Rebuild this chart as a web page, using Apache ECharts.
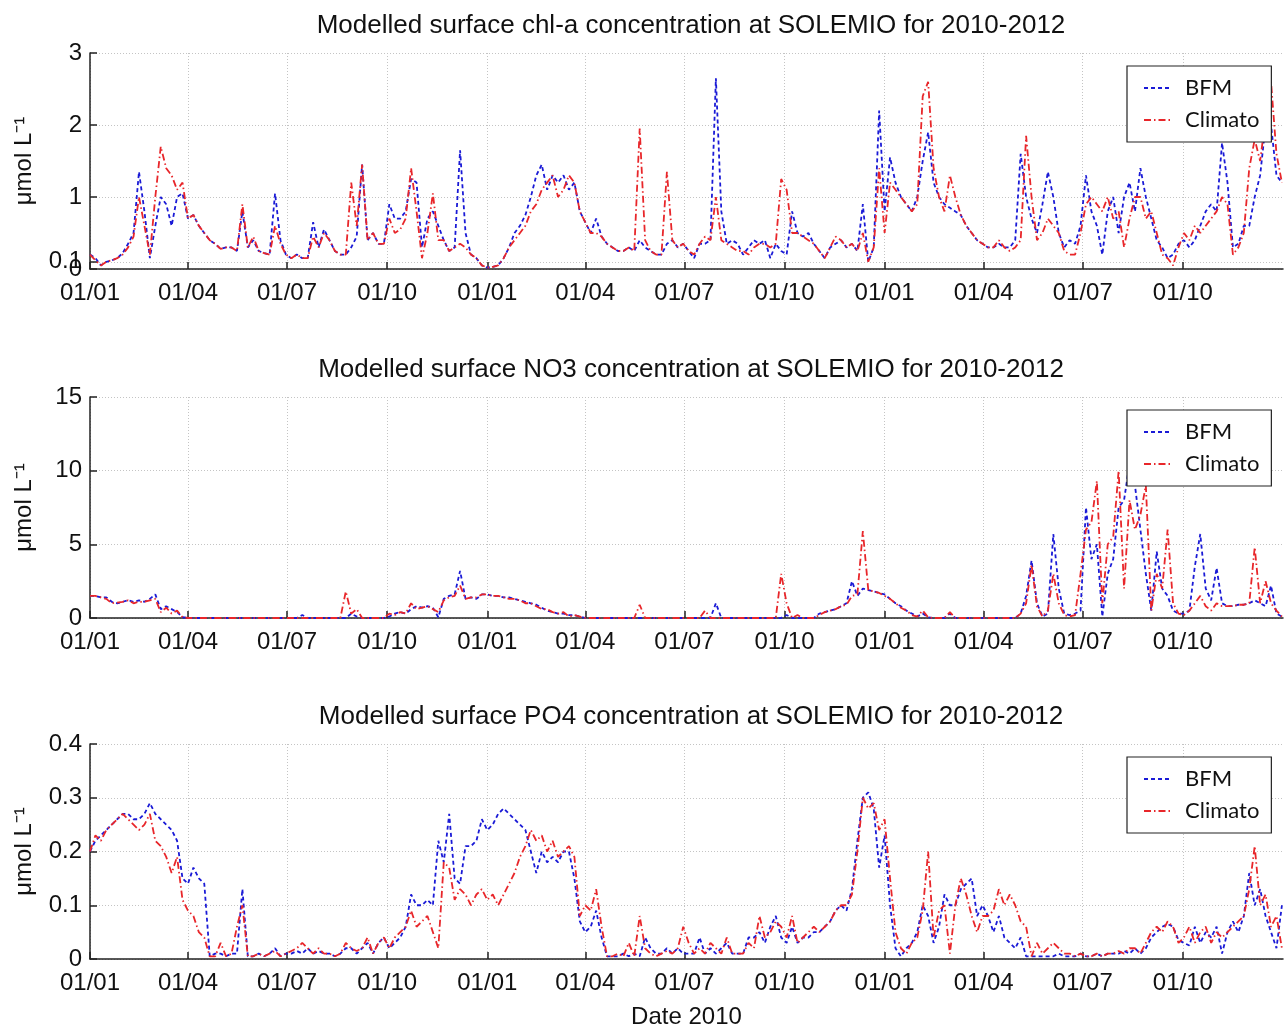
<!DOCTYPE html>
<html>
<head>
<meta charset="utf-8">
<script src="https://cdn.jsdelivr.net/npm/echarts@6/dist/echarts.min.js"></script>
<style>html,body{margin:0;padding:0;background:#fff}#c{width:1288px;height:1030px}</style>
</head>
<body>
<div id="c"></div>
<script>
// ---- sampling grid: one value every 5 days from 2010-01-01 to 2012-12-31 ----
const START_DATE = '2010-01-01';
const END_DATE = '2013-01-01';
const STEP_DAYS = 5;
const N_SAMPLES = 220;

// ---- tick labels ----
const tickDates = ['2010-01-01','2010-04-01','2010-07-01','2010-10-01',
                   '2011-01-01','2011-04-01','2011-07-01','2011-10-01',
                   '2012-01-01','2012-04-01','2012-07-01','2012-10-01'];
const tickLabels = ['01/01','01/04','01/07','01/10','01/01','01/04','01/07','01/10','01/01','01/04','01/07','01/10'];
const chlTicks = [0, 0.1, 1, 2, 3];
const chlMainLabels = [0, 1, 2, 3];
const chlExtraLabels = [0.1];

const titles = ['Modelled surface chl-a concentration at SOLEMIO for 2010-2012',
                'Modelled surface NO3 concentration at SOLEMIO for 2010-2012',
                'Modelled surface PO4 concentration at SOLEMIO for 2010-2012'];
const seriesNames = ['BFM', 'Climato'];

// ---- chl-a (BFM / Climato) ----
const chlBFM = [
0.2,0.15,0.05,0.1,0.12,0.15,0.22,0.35,0.5,1.35,
0.8,0.15,0.6,1.0,0.9,0.6,1.0,1.05,0.7,0.75,
0.6,0.5,0.4,0.35,0.28,0.3,0.3,0.25,0.8,0.3,
0.4,0.25,0.22,0.2,1.05,0.4,0.2,0.15,0.2,0.15,
0.15,0.65,0.3,0.55,0.4,0.25,0.2,0.2,0.3,0.45,
1.45,0.4,0.5,0.35,0.35,0.9,0.7,0.7,0.8,1.25,
1.2,0.3,0.7,0.8,0.6,0.4,0.25,0.3,1.65,0.5,
0.2,0.15,0.05,0.02,0.03,0.05,0.15,0.3,0.5,0.6,
0.75,1.0,1.3,1.45,1.1,1.3,1.2,1.3,1.1,1.2,
0.8,0.65,0.5,0.7,0.45,0.35,0.3,0.25,0.25,0.3,
0.25,0.4,0.3,0.25,0.2,0.2,0.35,0.4,0.3,0.35,
0.25,0.15,0.35,0.35,0.4,2.65,0.8,0.35,0.4,0.35,
0.2,0.3,0.4,0.35,0.4,0.15,0.35,0.25,0.2,0.8,
0.5,0.45,0.5,0.35,0.25,0.15,0.3,0.35,0.4,0.3,
0.35,0.25,0.9,0.1,0.3,2.2,0.8,1.55,1.2,1.0,
0.9,0.8,1.0,1.5,1.9,1.2,1.0,0.9,0.85,0.8,
0.75,0.6,0.5,0.4,0.35,0.3,0.3,0.35,0.3,0.3,
0.4,1.6,1.0,0.7,0.5,0.9,1.35,1.0,0.5,0.3,
0.4,0.35,0.6,1.3,0.8,0.6,0.2,0.8,1.0,0.5,
1.0,1.2,0.8,1.4,1.0,0.7,0.4,0.3,0.15,0.2,
0.35,0.4,0.3,0.4,0.6,0.8,0.9,0.8,1.75,1.2,
0.3,0.35,0.6,0.6,1.0,1.3,2.0,2.0,1.3,1.2];
const chlClimato = [
0.2,0.12,0.05,0.1,0.12,0.15,0.2,0.3,0.45,1.0,
0.6,0.2,1.0,1.7,1.4,1.3,1.1,1.2,0.7,0.75,
0.6,0.5,0.4,0.35,0.28,0.3,0.3,0.25,0.9,0.3,
0.45,0.25,0.22,0.2,0.6,0.35,0.2,0.15,0.2,0.15,
0.15,0.45,0.3,0.5,0.4,0.25,0.2,0.2,1.2,0.6,
1.45,0.4,0.5,0.35,0.35,0.7,0.5,0.55,0.7,1.4,
0.8,0.15,0.5,1.05,0.4,0.4,0.25,0.3,0.35,0.3,
0.2,0.15,0.05,0.02,0.03,0.05,0.15,0.3,0.4,0.5,
0.6,0.8,0.9,1.1,1.2,1.3,1.0,1.1,1.3,1.2,
0.8,0.65,0.5,0.5,0.45,0.35,0.3,0.25,0.25,0.3,
0.25,1.95,0.4,0.25,0.2,0.2,1.35,0.4,0.3,0.35,
0.25,0.2,0.35,0.45,0.4,1.0,0.4,0.35,0.3,0.25,
0.25,0.2,0.3,0.35,0.35,0.3,0.35,1.25,1.1,0.5,
0.5,0.45,0.4,0.35,0.25,0.15,0.3,0.45,0.4,0.3,
0.35,0.25,0.5,0.1,0.3,1.4,0.5,1.2,1.1,1.0,
0.9,0.8,0.9,2.4,2.6,1.4,1.0,0.8,1.3,1.0,
0.75,0.6,0.5,0.4,0.35,0.3,0.3,0.4,0.3,0.25,
0.3,0.4,1.85,1.0,0.4,0.5,0.7,0.6,0.5,0.25,
0.2,0.2,0.5,0.9,1.0,0.9,0.8,1.0,0.7,0.8,
0.3,0.7,1.0,1.0,0.7,0.8,0.5,0.2,0.15,0.05,
0.3,0.5,0.4,0.6,0.5,0.6,0.7,0.8,1.0,0.9,
0.2,0.3,0.5,1.4,1.8,1.5,2.1,2.6,1.6,1.2];

// ---- NO3 (BFM / Climato) ----
const no3BFM = [
1.5,1.5,1.4,1.4,1.1,1.0,1.1,1.2,1.1,1.2,
1.1,1.3,1.6,0.6,0.8,0.6,0.4,0.05,0,0,
0,0,0,0,0,0,0,0,0,0,
0,0,0,0,0,0,0,0,0,0.2,
0,0,0,0,0,0,0,0,0.3,0.1,
0,0,0,0,0,0.1,0.3,0.4,0.3,0.6,
0.8,0.7,0.8,0.7,0.05,1.3,1.5,1.6,3.2,1.3,
1.4,1.3,1.6,1.6,1.5,1.5,1.4,1.4,1.3,1.2,
1.1,1.0,0.9,0.7,0.5,0.4,0.3,0.3,0.2,0.2,
0.1,0,0,0,0,0,0,0,0,0,
0,0,0,0,0,0,0,0,0,0,
0,0,0,0,0,1.0,0,0,0,0,
0,0,0,0,0,0,0,0,0.2,0,
0,0,0,0,0.3,0.4,0.5,0.6,0.8,1.0,
2.5,1.5,2.0,1.9,1.8,1.7,1.6,1.3,1.0,0.8,
0.5,0.3,0.1,0.3,0.05,0,0,0,0.3,0,
0,0,0,0,0,0,0,0,0,0,
0,0.3,1.5,3.9,1.0,0.1,0.3,5.7,2.0,0.3,
0.2,0.3,0.5,7.5,4.0,5.0,0.1,3.0,4.0,7.5,
8.0,10.5,9.0,6.0,3.0,0.5,4.5,2.0,1.5,0.5,
0.3,0.3,0.5,3.5,5.7,2.0,1.2,3.4,1.0,0.8,
0.8,0.9,0.9,1.0,1.2,1.0,0.8,2.2,0.3,0.1];
const no3Climato = [
1.5,1.5,1.4,1.3,1.0,1.05,1.1,1.2,1.0,1.1,
1.1,1.2,1.3,0.4,0.7,0.3,0.5,0.05,0,0,
0,0,0,0,0,0,0,0,0,0,
0,0,0,0,0,0,0,0,0,0,
0,0,0,0,0,0,0,1.8,0.3,0.6,
0,0,0,0,0,0.3,0.2,0.4,0.3,1.0,
0.6,0.7,0.8,0.6,0.4,1.2,1.4,1.5,2.2,1.3,
1.4,1.4,1.6,1.6,1.5,1.5,1.4,1.3,1.3,1.2,
1.0,1.0,0.8,0.6,0.6,0.4,0.3,0.4,0.1,0.2,
0.1,0,0,0,0,0,0,0,0,0,
0,0.9,0,0,0,0,0,0,0,0,
0,0,0,0.5,0,0,0,0,0,0,
0,0,0,0,0,0,0,3.0,1.0,0,
0.2,0,0,0,0.2,0.4,0.5,0.6,0.8,0.9,
1.5,1.6,5.9,1.9,1.8,1.7,1.5,1.3,1.0,0.7,
0.5,0.2,0.1,0.5,0.05,0,0,0,0.4,0,
0,0,0,0,0,0,0,0,0,0,
0,0.3,1.0,3.6,0.8,0.1,0.5,3.0,1.0,0.2,
0.1,0.2,3.0,6.0,6.5,9.3,1.0,5.0,5.5,10.0,
2.0,8.0,6.0,7.0,9.0,0.5,3.0,2.0,6.0,1.0,
0.3,0.2,0.5,1.0,1.5,0.8,0.5,1.0,0.8,0.8,
0.8,0.9,0.9,1.0,4.8,1.0,2.5,1.0,0.5,0.1];

// ---- PO4 (BFM / Climato) ----
const po4BFM = [
0.2,0.22,0.23,0.24,0.25,0.26,0.27,0.27,0.26,0.26,
0.27,0.29,0.27,0.26,0.25,0.24,0.22,0.15,0.14,0.17,
0.15,0.14,0.005,0.01,0.01,0.005,0.01,0.01,0.13,0.005,
0.005,0.01,0.005,0.01,0.02,0.005,0.01,0.01,0.015,0.01,
0.02,0.01,0.015,0.01,0.01,0.005,0.01,0.02,0.02,0.01,
0.02,0.03,0.01,0.03,0.04,0.02,0.03,0.04,0.06,0.12,
0.1,0.1,0.11,0.1,0.22,0.18,0.27,0.15,0.14,0.21,
0.21,0.22,0.26,0.24,0.25,0.27,0.28,0.27,0.26,0.25,
0.24,0.2,0.16,0.2,0.18,0.19,0.18,0.2,0.2,0.15,
0.07,0.05,0.06,0.09,0.04,0.005,0.005,0.005,0.01,0.005,
0.01,0.005,0.04,0.02,0.01,0.01,0.02,0.01,0.02,0.01,
0.01,0.01,0.04,0.01,0.02,0.01,0.02,0.03,0.01,0.01,
0.01,0.04,0.04,0.05,0.03,0.06,0.08,0.04,0.03,0.06,
0.03,0.04,0.04,0.05,0.05,0.06,0.07,0.09,0.1,0.09,
0.13,0.22,0.3,0.31,0.28,0.17,0.23,0.1,0.02,0.005,
0.02,0.03,0.05,0.1,0.08,0.03,0.06,0.12,0.1,0.1,
0.13,0.14,0.15,0.08,0.1,0.08,0.05,0.08,0.04,0.03,
0.02,0.04,0.005,0.005,0.005,0.005,0.005,0.005,0.01,0.005,
0.005,0.005,0.01,0.005,0.005,0.01,0.005,0.01,0.01,0.01,
0.015,0.01,0.02,0.01,0.02,0.04,0.05,0.06,0.065,0.06,
0.035,0.03,0.025,0.06,0.03,0.05,0.04,0.06,0.01,0.05,
0.07,0.05,0.08,0.16,0.1,0.13,0.08,0.05,0.02,0.1];
const po4Climato = [
0.2,0.23,0.22,0.24,0.25,0.26,0.27,0.26,0.25,0.24,
0.25,0.27,0.22,0.21,0.19,0.16,0.19,0.11,0.09,0.08,
0.05,0.04,0.005,0.005,0.03,0.005,0.01,0.06,0.1,0.005,
0.005,0.01,0.005,0.01,0.015,0.005,0.01,0.015,0.02,0.03,
0.02,0.01,0.02,0.01,0.01,0.005,0.01,0.03,0.02,0.015,
0.02,0.04,0.01,0.03,0.04,0.02,0.04,0.05,0.06,0.09,
0.06,0.07,0.08,0.05,0.02,0.18,0.17,0.11,0.13,0.12,
0.1,0.12,0.13,0.11,0.12,0.1,0.12,0.14,0.16,0.19,
0.21,0.24,0.22,0.23,0.2,0.22,0.19,0.2,0.21,0.19,
0.08,0.1,0.09,0.13,0.06,0.005,0.005,0.01,0.005,0.03,
0.005,0.08,0.02,0.01,0.005,0.01,0.015,0.01,0.02,0.06,
0.03,0.01,0.02,0.01,0.03,0.02,0.01,0.04,0.01,0.01,
0.01,0.03,0.02,0.08,0.04,0.05,0.07,0.06,0.04,0.08,
0.03,0.04,0.05,0.06,0.05,0.06,0.07,0.09,0.1,0.1,
0.12,0.2,0.3,0.28,0.29,0.24,0.26,0.15,0.05,0.02,
0.01,0.03,0.04,0.09,0.2,0.04,0.09,0.1,0.01,0.1,
0.15,0.12,0.08,0.05,0.08,0.08,0.09,0.13,0.1,0.12,
0.1,0.07,0.06,0.005,0.03,0.01,0.02,0.03,0.02,0.01,
0.01,0.005,0.01,0.005,0.005,0.01,0.005,0.01,0.01,0.015,
0.01,0.02,0.02,0.01,0.03,0.05,0.06,0.05,0.07,0.06,
0.03,0.04,0.06,0.03,0.05,0.06,0.03,0.05,0.04,0.05,
0.06,0.07,0.08,0.13,0.21,0.1,0.12,0.06,0.08,0.02];

// ---------------------------------------------------------------------------
const DAY_MS = 86400000;
const t0 = Date.parse(START_DATE + 'T00:00:00Z');
const tEnd = Date.parse(END_DATE + 'T00:00:00Z');
const sampleTimes = Array.from({length: N_SAMPLES}, (_, i) => t0 + i * STEP_DAYS * DAY_MS);
const tickTimes = tickDates.map(d => Date.parse(d + 'T00:00:00Z'));

const FONT = 'Liberation Sans, Arial, sans-serif';
const BLUE = '#1a1ad6';
const RED = '#e8262a';

const panels = [
  {blue: chlBFM, red: chlClimato, max: 3, interval: 1, top: 53, height: 216},
  {blue: no3BFM, red: no3Climato, max: 15, interval: 5, top: 397, height: 221},
  {blue: po4BFM, red: po4Climato, max: 0.4, interval: 0.1, top: 744, height: 218}
];

const gridLine = {show: true, lineStyle: {color: '#c4c4c4', width: 1, type: [1, 2]}};
const labelFont = {fontFamily: FONT, fontSize: 24, color: '#111'};

const yAxes = panels.map((p, i) => {
  const ax = {
    type: 'value', gridIndex: i, min: 0, max: p.max, interval: p.interval,
    name: 'μmol L⁻¹', nameLocation: 'middle', nameGap: 54,
    nameTextStyle: {fontFamily: FONT, fontSize: 24, color: '#111'},
    axisLine: {show: true, lineStyle: {color: '#222', width: 1.5}},
    axisTick: {show: true, inside: true, length: 7, lineStyle: {color: '#222', width: 1.5}},
    axisLabel: Object.assign({margin: 8, showMinLabel: true, showMaxLabel: true, hideOverlap: false}, labelFont),
    splitLine: gridLine
  };
  if (i === 0) {
    ax.axisTick.customValues = chlTicks;
    ax.axisLabel.customValues = chlMainLabels;
  }
  return ax;
});
// extra overlay axis carrying the '0.1' label of the chl-a panel (overlaps the '0', as in the original)
yAxes.push({
  type: 'value', gridIndex: 0, min: 0, max: 3, position: 'left',
  axisLine: {show: false},
  axisTick: {show: false, customValues: chlExtraLabels},
  axisLabel: Object.assign({margin: 8, customValues: chlExtraLabels}, labelFont),
  splitLine: gridLine
});

const option = {
  animation: false,
  backgroundColor: '#fff',
  title: panels.map((p, i) => ({
    text: titles[i], left: 686, top: p.top - 45, textAlign: 'center',
    textStyle: {fontFamily: FONT, fontSize: 26, fontWeight: 'normal', color: '#111'}
  })),
  grid: panels.map(p => ({left: 90, right: 5, top: p.top, height: p.height})),
  xAxis: panels.map((p, i) => ({
    type: 'value', gridIndex: i, min: t0, max: tEnd,
    name: i === 2 ? 'Date 2010' : '', nameLocation: 'middle', nameGap: 46,
    nameTextStyle: {fontFamily: FONT, fontSize: 24, color: '#111'},
    axisLine: {show: true, onZero: false, lineStyle: {color: '#222', width: 1.5}},
    axisTick: {show: true, inside: true, length: 7, customValues: tickTimes, lineStyle: {color: '#222', width: 1.5}},
    axisLabel: Object.assign({customValues: tickTimes, formatter: v => tickLabels[tickTimes.indexOf(v)] || '', margin: 12}, labelFont),
    splitLine: gridLine
  })),
  yAxis: yAxes,
  legend: panels.map(p => ({
    orient: 'vertical', left: 1127, top: p.top + 13,
    data: seriesNames,
    backgroundColor: '#fff', borderColor: '#222', borderWidth: 1.2,
    padding: [11, 12, 11, 16], itemGap: 10, itemWidth: 28, itemHeight: 14,
    itemStyle: {opacity: 0},
    textStyle: {fontFamily: 'Lato, sans-serif', fontSize: 22, color: '#111', lineHeight: 22, padding: [0, 0, 0, 8]}
  })),
  series: []
};

panels.forEach((p, i) => {
  option.series.push({
    name: seriesNames[0], type: 'line', xAxisIndex: i, yAxisIndex: i, symbol: 'none', z: 2,
    data: sampleTimes.map((t, j) => [t, p.blue[j]]),
    lineStyle: {color: BLUE, width: 1.8, type: [4, 3]}, itemStyle: {color: BLUE}
  });
  option.series.push({
    name: seriesNames[1], type: 'line', xAxisIndex: i, yAxisIndex: i, symbol: 'none', z: 3,
    data: sampleTimes.map((t, j) => [t, p.red[j]]),
    lineStyle: {color: RED, width: 1.8, type: [7, 3, 1.5, 3]}, itemStyle: {color: RED}
  });
});

const chart = echarts.init(document.getElementById('c'), null, {renderer: 'canvas'});
chart.setOption(option);
</script>
</body>
</html>
